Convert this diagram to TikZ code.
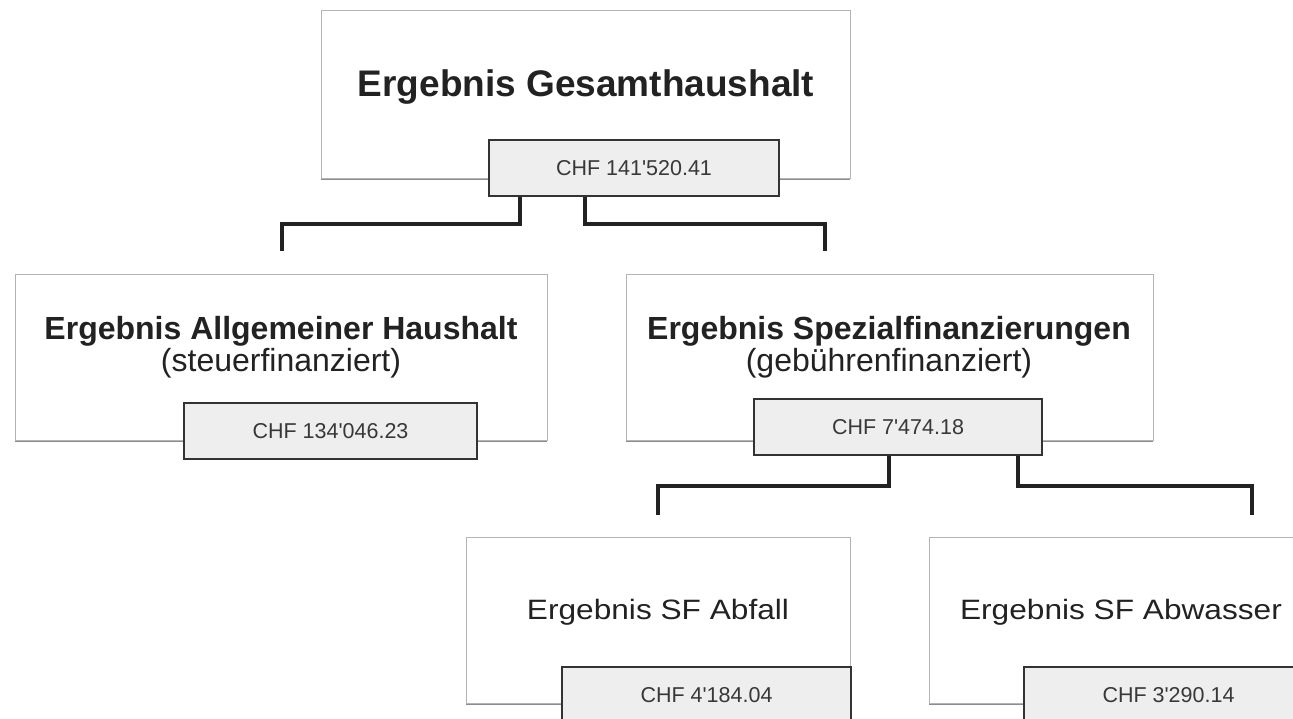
\documentclass[tikz,border=0pt]{standalone}
\usepackage{fontspec}
\setmainfont{Liberation Sans}
\newfontfamily\widefont[FakeStretch=1.13]{Liberation Sans}
\usetikzlibrary{shadows}
\definecolor{ink}{HTML}{222222}
\definecolor{boxline}{HTML}{B4B4B4}
\definecolor{chffill}{HTML}{EEEEEE}
\definecolor{chfline}{HTML}{333333}
\newcommand{\ap}{\textquotesingle}
\tikzset{
  bigbox/.style={draw=boxline, line width=0.9pt, fill=white, inner sep=0pt,
    drop shadow={shadow xshift=0pt, shadow yshift=-1.6pt, fill=black!45, opacity=1}},
  chfbox/.style={draw=chfline, line width=1.4pt, fill=chffill, inner sep=0pt,
    minimum width=289pt, minimum height=56pt, text=ink!90,
    font=\fontsize{21.5}{24}\selectfont},
  titlebig/.style={text=ink, inner sep=0pt, anchor=base,
    font=\fontsize{37}{40}\selectfont\bfseries},
  titlemid/.style={text=ink, inner sep=0pt, anchor=base,
    font=\fontsize{32}{34}\selectfont\bfseries},
  subtitle/.style={text=ink, inner sep=0pt, anchor=base,
    font=\fontsize{32}{34}\selectfont},
  titlelow/.style={text=ink, inner sep=0pt, anchor=base,
    font=\fontsize{28}{30}\widefont},
  conn/.style={draw=ink, line width=4pt, line join=miter}
}
\begin{document}
\begin{tikzpicture}[x=1pt,y=-1pt]
\useasboundingbox[fill=white] (0,0) rectangle (1293,719);
\clip (0,0) rectangle (1293,719);

% top
\node[bigbox, minimum width=529pt, minimum height=168pt] (top) at (585.5,94) {};
\node[titlebig] (toptitle) at (586,97) {Ergebnis Gesamthaushalt};
\node[chfbox, minimum width=290pt] (topchf) at (634,168) {CHF 141\ap520.41};

% middle left
\node[bigbox, minimum width=532pt, minimum height=166pt] (ml) at (281,357) {};
\node[titlemid] (mltitle) at (281,339) {Ergebnis Allgemeiner Haushalt};
\node[subtitle] (mlsub) at (281,371) {(steuerfinanziert)};
\node[chfbox, minimum width=293pt] (mlchf) at (330.5,431) {CHF 134\ap046.23};

% middle right
\node[bigbox, minimum width=527pt, minimum height=166pt] (mr) at (889.5,357) {};
\node[titlemid] (mrtitle) at (889,339) {Ergebnis Spezialfinanzierungen};
\node[subtitle] (mrsub) at (889,371) {(gebührenfinanziert)};
\node[chfbox, minimum width=288pt] (mrchf) at (898,427) {CHF 7\ap474.18};

% bottom left
\node[bigbox, minimum width=384pt, minimum height=166pt] (bl) at (658,620) {};
\node[titlelow] (bltitle) at (658,619) {Ergebnis SF Abfall};
\node[chfbox] (blchf) at (706.5,695) {CHF 4\ap184.04};

% bottom right
\node[bigbox, minimum width=384pt, minimum height=166pt] (br) at (1121,620) {};
\node[titlelow] (brtitle) at (1121,619) {Ergebnis SF Abwasser};
\node[chfbox] (brchf) at (1168.5,695) {CHF 3\ap290.14};

% connector end points
\coordinate (e1) at (282,251);
\coordinate (e2) at (825,251);
\coordinate (e3) at (658,515);
\coordinate (e4) at (1252,515);

\draw[conn] ([xshift=32pt]topchf.south west) -- ++(0,27) -| (e1);
\draw[conn] ([xshift=97pt]topchf.south west) -- ++(0,27) -| (e2);
\draw[conn] ([xshift=136pt]mrchf.south west) -- ++(0,30) -| (e3);
\draw[conn] ([xshift=265pt]mrchf.south west) -- ++(0,30) -| (e4);
\end{tikzpicture}
\end{document}
